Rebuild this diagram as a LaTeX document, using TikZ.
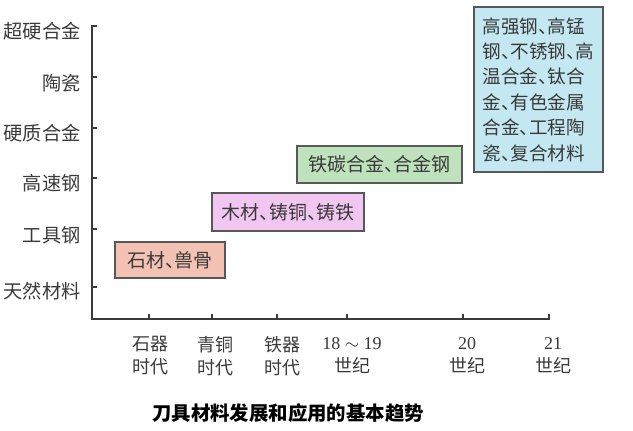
\documentclass[tikz,border=0pt]{standalone}
\usepackage{fontspec}
\setmainfont{Liberation Serif}
\newfontfamily\cjk{Noto Sans CJK SC}
\newcommand\dun{\makebox[.5em][l]{、}}
\definecolor{inkgray}{HTML}{3A3A3A}
\definecolor{stonefill}{HTML}{F3C2B2}
\definecolor{woodfill}{HTML}{F1C6F0}
\definecolor{ironfill}{HTML}{BEE2BC}
\definecolor{alloyfill}{HTML}{C4E8F2}

\begin{document}
\begin{tikzpicture}
    [
    x=0.5pt, y=-0.5pt,
    every node/.style={font=\cjk\fontsize{9.5pt}{12pt}\selectfont, text=inkgray, inner sep=0pt},
    era/.style={rectangle, draw=inkgray!85, line width=0.6pt, align=center},
    ylab/.style={anchor=east, font=\cjk\fontsize{9.6pt}{12pt}\selectfont},
    xlab/.style={align=center, font=\cjk\fontsize{9pt}{11.5pt}\selectfont},
    axis/.style={draw=inkgray, line width=0.6pt}
    ]
    \useasboundingbox (0,0) rectangle (633,430);

% Axes
    \coordinate (top) at (92,26);
    \coordinate (origin) at (92,319);
    \coordinate (right) at (549,319);
    \draw[axis] ([xshift=2.5pt]top) -- (top) -- (origin) -- (right) -- ([yshift=2.5pt]right);

% Material levels
    \node[ylab] (cemented) at (81,31) {超硬合金};
    \node[ylab] (ceramic) at (81,83) {陶瓷};
    \node[ylab] (hardalloy) at (81,133) {硬质合金};
    \node[ylab] (hss) at (81,183) {高速钢};
    \node[ylab] (toolsteel) at (81,235) {工具钢};
    \node[ylab] (natural) at (81,291) {天然材料};
    \draw[axis] (92,77) -- +(2.5pt,0);
    \draw[axis] (92,128) -- +(2.5pt,0);
    \draw[axis] (92,178) -- +(2.5pt,0);
    \draw[axis] (92,229) -- +(2.5pt,0);
    \draw[axis] (92,287) -- +(2.5pt,0);

% Ages
    \node[xlab] (stoneage) at (151,356) {石器\\时代};
    \node[xlab] (bronzeage) at (215,356) {青铜\\时代};
    \node[xlab] (ironage) at (282,356) {铁器\\时代};
    \node[xlab] (c18) at (352,356) {{\rmfamily 18 $\sim$ 19}\\世纪};
    \node[xlab] (c20) at (467,356) {{\rmfamily 20}\\世纪};
    \node[xlab] (c21) at (553,356) {{\rmfamily 21}\\世纪};
    \draw[axis] (149,319) -- +(0,2.5pt);
    \draw[axis] (212,319) -- +(0,2.5pt);
    \draw[axis] (277,319) -- +(0,2.5pt);
    \draw[axis] (347,319) -- +(0,2.5pt);
    \draw[axis] (463,319) -- +(0,2.5pt);

% Materials in use
    \node[era, fill=stonefill, minimum width=55pt, minimum height=18pt] (stone) at (170,260) {石材\dun 兽骨};
    \node[era, fill=woodfill, minimum width=76pt, minimum height=19pt] (wood) at (288,212) {木材\dun 铸铜\dun 铸铁};
    \node[era, fill=ironfill, minimum width=82.5pt, minimum height=18.5pt] (carbon) at (379.5,164.5) {铁碳合金\dun 合金钢};
    \node[era, fill=alloyfill, minimum width=64.5pt, minimum height=82.5pt, align=left,
          font=\cjk\fontsize{9.3pt}{12.7pt}\selectfont] (modern) at (538.5,89.5)
        {高强钢\dun 高锰\\钢\dun 不锈钢\dun 高\\温合金\dun 钛合\\金\dun 有色金属\\合金\dun 工程陶\\瓷\dun 复合材料};

% Caption
    \node[font=\cjk\bfseries\fontsize{9.7pt}{12pt}\selectfont, text=black] (caption) at (288,413) {刀具材料发展和应用的基本趋势};

\end{tikzpicture}
\end{document}
